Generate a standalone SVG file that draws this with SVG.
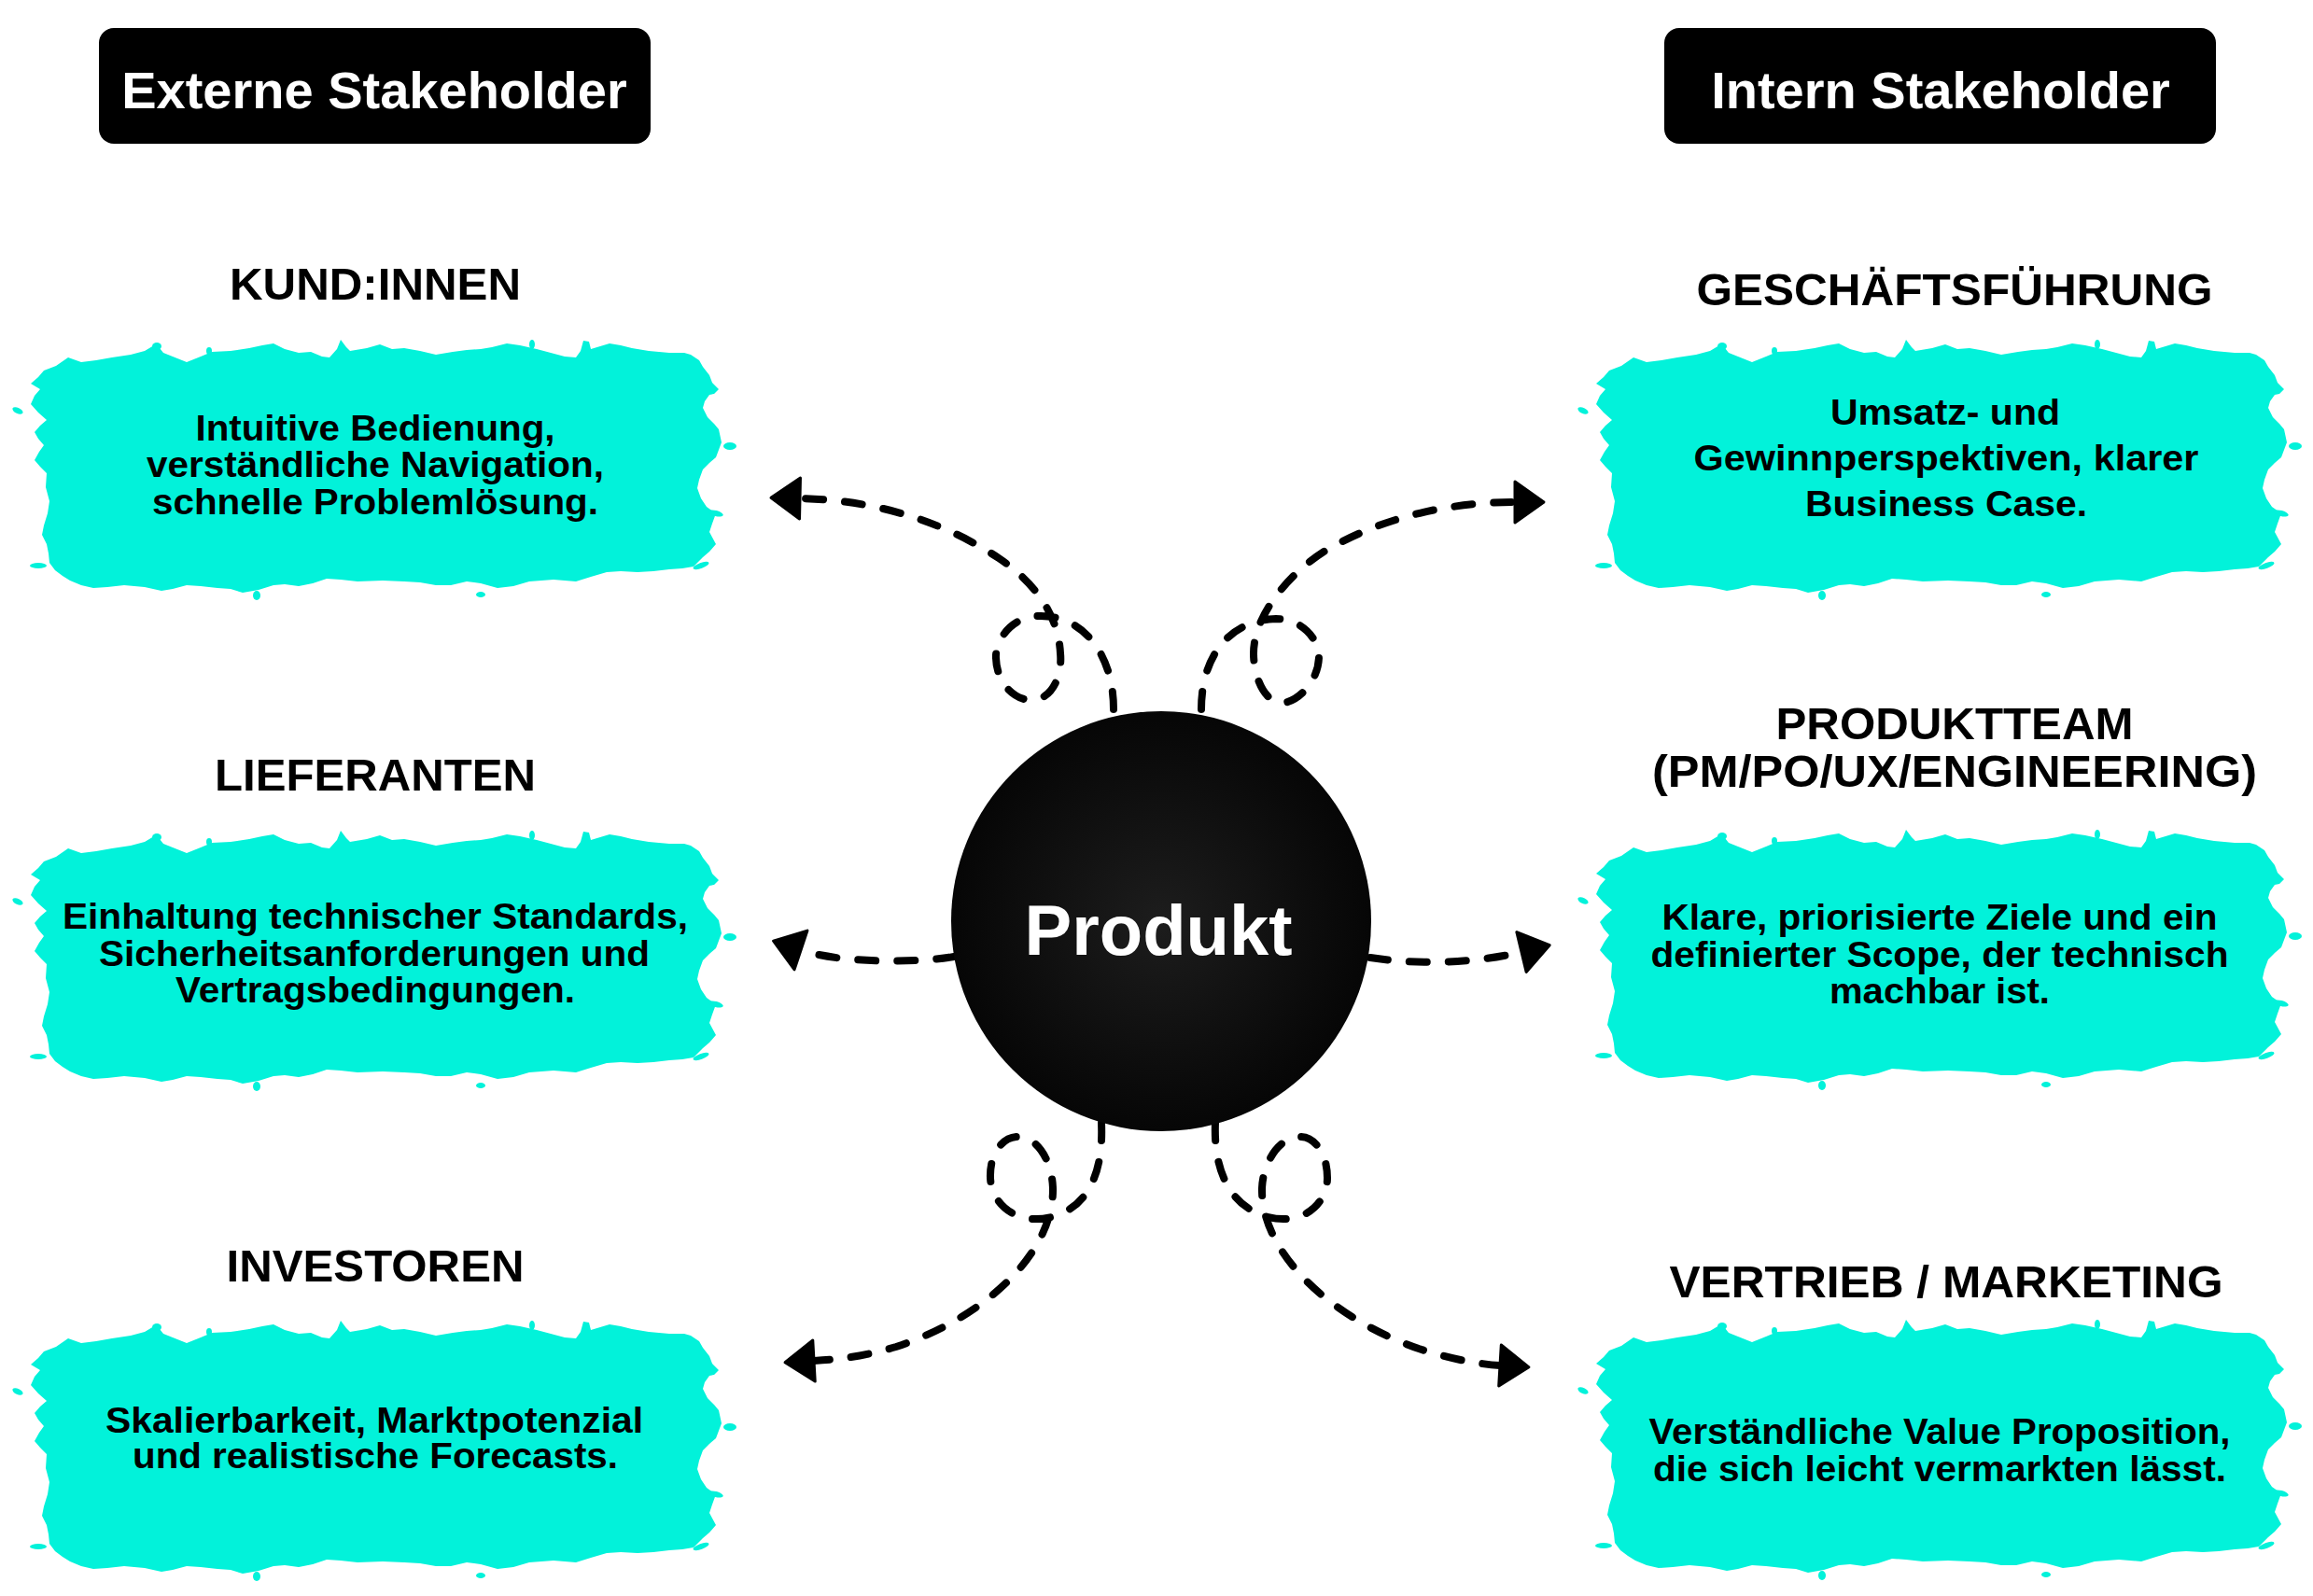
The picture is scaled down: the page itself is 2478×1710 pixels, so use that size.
<svg xmlns="http://www.w3.org/2000/svg" width="2478" height="1710" viewBox="0 0 2478 1710">
<style>
text{font-family:"Liberation Sans",Arial,Helvetica,sans-serif;font-weight:bold;text-anchor:middle}
.hdr{font-size:56px;fill:#fff}
.ttl{font-size:49px;fill:#000}
.body{font-size:38px;fill:#000}
.blob{fill:#02F2DA}
.conn{fill:none;stroke:#000;stroke-width:8;stroke-dasharray:19 23;stroke-linecap:round;stroke-linejoin:round;marker-end:url(#arr)}
</style>
<defs>
<marker id="arr" markerUnits="userSpaceOnUse" viewBox="-4 -28 42 56" markerWidth="42" markerHeight="56" refX="0" refY="0" orient="auto" overflow="visible">
<path d="M0,-22 L31,0 L0,22 Z" fill="#000" stroke="#000" stroke-width="3" stroke-linejoin="round"/>
</marker>
<radialGradient id="ball" cx="0.5" cy="0.5" r="0.5">
<stop offset="0" stop-color="#1d1d1d"/>
<stop offset="1" stop-color="#060606"/>
</radialGradient>
<g id="blobshape">
<path class="blob" d="M28,51 L18,45 L26,38 L32,31 L45,26 L58,17 L72,22 L88,20 L105,17 L125,14 L140,10 L150,4 L156,7 L160,12 L185,22 L200,16 L212,11 L232,10 L252,7 L266,4 L278,2 L290,8 L305,12 L318,11 L330,16 L338,17 L346,8 L350,-2 L356,6 L360,10 L378,7 L392,3 L405,8 L418,7 L435,10 L452,14 L470,11 L485,9 L500,8 L512,6 L528,2 L542,4 L560,8 L575,12 L590,16 L602,17 L607,10 L610,-1 L616,0 L618,8 L638,2 L650,4 L662,7 L680,10 L702,12 L718,12 L725,14 L734,20 L738,27 L745,36 L748,44 L755,51 L750,56 L745,57 L740,64 L738,71 L743,81 L750,88 L755,94 L758,108 L752,124 L745,130 L738,137 L734,148 L732,157 L736,168 L742,177 L752,184 L748,195 L745,204 L752,217 L745,225 L738,231 L728,241 L716,243 L702,244 L685,246 L668,247 L650,246 L635,247 L618,252 L602,257 L578,255 L552,257 L535,262 L518,264 L500,259 L485,257 L468,261 L452,261 L435,258 L418,257 L395,256 L368,257 L350,255 L335,254 L320,259 L305,262 L290,260 L278,261 L262,266 L245,269 L232,265 L218,264 L200,262 L185,261 L170,265 L158,267 L140,263 L118,261 L100,263 L85,264 L72,261 L60,256 L52,251 L44,245 L38,237 L37,227 L35,217 L30,207 L32,197 L36,184 L38,171 L34,156 L35,141 L28,134 L22,127 L27,118 L32,111 L26,104 L22,97 L28,90 L35,84 L26,76 L18,67 L22,58 Z"/>
<ellipse class="blob" cx="4" cy="74" rx="6" ry="3" transform="rotate(25 4 74)"/>
<ellipse class="blob" cx="767" cy="112" rx="7" ry="4"/>
<ellipse class="blob" cx="752" cy="184" rx="8" ry="3" transform="rotate(15 752 184)"/>
<ellipse class="blob" cx="736" cy="240" rx="9" ry="3" transform="rotate(-20 736 240)"/>
<ellipse class="blob" cx="26" cy="240" rx="9" ry="3"/>
<ellipse class="blob" cx="153" cy="5" rx="5" ry="4"/>
<ellipse class="blob" cx="209" cy="10" rx="3" ry="4"/>
<ellipse class="blob" cx="555" cy="3" rx="3" ry="5"/>
<ellipse class="blob" cx="260" cy="272" rx="4" ry="5"/>
<ellipse class="blob" cx="500" cy="271" rx="5" ry="3"/>
</g>
</defs>
<rect width="2478" height="1710" fill="#fff"/>

<g id="header-extern">
<rect x="106" y="30" width="591" height="124" rx="16" fill="#000"/>
<text class="hdr" x="401" y="116">Externe Stakeholder</text>
</g>
<g id="header-intern">
<rect x="1783" y="30" width="591" height="124" rx="16" fill="#000"/>
<text class="hdr" x="2079" y="116">Intern Stakeholder</text>
</g>

<g id="kundinnen">
<text class="ttl" x="402" y="321" textLength="312" lengthAdjust="spacingAndGlyphs">KUND:INNEN</text>
<use href="#blobshape" transform="translate(15,366)"/>
<text class="body" x="402" y="472" textLength="385" lengthAdjust="spacingAndGlyphs">Intuitive Bedienung,</text>
<text class="body" x="402" y="511" textLength="490" lengthAdjust="spacingAndGlyphs">verständliche Navigation,</text>
<text class="body" x="402" y="551" textLength="478" lengthAdjust="spacingAndGlyphs">schnelle Problemlösung.</text>
</g>

<g id="lieferanten">
<text class="ttl" x="402" y="847" textLength="344" lengthAdjust="spacingAndGlyphs">LIEFERANTEN</text>
<use href="#blobshape" transform="translate(15,892)"/>
<text class="body" x="402" y="995" textLength="670" lengthAdjust="spacingAndGlyphs">Einhaltung technischer Standards,</text>
<text class="body" x="401" y="1035" textLength="590" lengthAdjust="spacingAndGlyphs">Sicherheitsanforderungen und</text>
<text class="body" x="402" y="1074" textLength="428" lengthAdjust="spacingAndGlyphs">Vertragsbedingungen.</text>
</g>

<g id="investoren">
<text class="ttl" x="402" y="1373" textLength="319" lengthAdjust="spacingAndGlyphs">INVESTOREN</text>
<use href="#blobshape" transform="translate(15,1417)"/>
<text class="body" x="401" y="1535" textLength="576" lengthAdjust="spacingAndGlyphs">Skalierbarkeit, Marktpotenzial</text>
<text class="body" x="402" y="1573" textLength="520" lengthAdjust="spacingAndGlyphs">und realistische Forecasts.</text>
</g>

<g id="geschaeftsfuehrung">
<text class="ttl" x="2094" y="327" textLength="553" lengthAdjust="spacingAndGlyphs">GESCHÄFTSFÜHRUNG</text>
<use href="#blobshape" transform="translate(1692,366)"/>
<text class="body" x="2084" y="455" textLength="246" lengthAdjust="spacingAndGlyphs">Umsatz- und</text>
<text class="body" x="2085" y="504" textLength="541" lengthAdjust="spacingAndGlyphs">Gewinnperspektiven, klarer</text>
<text class="body" x="2085" y="553" textLength="302" lengthAdjust="spacingAndGlyphs">Business Case.</text>
</g>

<g id="produktteam">
<text class="ttl" x="2094" y="792" textLength="383" lengthAdjust="spacingAndGlyphs">PRODUKTTEAM</text>
<text class="ttl" x="2094" y="843" textLength="648" lengthAdjust="spacingAndGlyphs">(PM/PO/UX/ENGINEERING)</text>
<use href="#blobshape" transform="translate(1692,891)"/>
<text class="body" x="2078" y="996" textLength="595" lengthAdjust="spacingAndGlyphs">Klare, priorisierte Ziele und ein</text>
<text class="body" x="2078" y="1036" textLength="619" lengthAdjust="spacingAndGlyphs">definierter Scope, der technisch</text>
<text class="body" x="2078" y="1075" textLength="236" lengthAdjust="spacingAndGlyphs">machbar ist.</text>
</g>

<g id="vertrieb-marketing">
<text class="ttl" x="2085" y="1390" textLength="593" lengthAdjust="spacingAndGlyphs">VERTRIEB / MARKETING</text>
<use href="#blobshape" transform="translate(1692,1416)"/>
<text class="body" x="2078" y="1547" textLength="623" lengthAdjust="spacingAndGlyphs">Verständliche Value Proposition,</text>
<text class="body" x="2078" y="1587" textLength="614" lengthAdjust="spacingAndGlyphs">die sich leicht vermarkten lässt.</text>
</g>

<g id="connectors">
<path class="conn" d="M1193,760 C1193,700 1160,660 1115,660 C1080,660 1066,690 1067,705 C1068,735 1090,752 1108,750 C1130,747 1138,720 1136,700 C1134,660 1110,625 1070,598 C1020,565 950,536 857,534"/>
<path class="conn" d="M1287,760 C1287,705 1315,665 1367,663 C1395,663 1413,685 1413,703 C1413,730 1390,753 1373,753 C1355,753 1343,725 1343,700 C1343,660 1380,615 1420,590 C1480,555 1550,538 1623,538"/>
<path class="conn" d="M1022,1025 C980,1032 900,1032 858,1018"/>
<path class="conn" d="M1468,1026 C1520,1034 1580,1032 1630,1020"/>
<path class="conn" d="M1180,1203 C1182,1250 1170,1290 1130,1303 C1090,1315 1062,1290 1061,1262 C1060,1235 1075,1218 1090,1218 C1115,1218 1128,1250 1128,1275 C1128,1340 1060,1410 960,1443 C920,1455 890,1457 872,1458"/>
<path class="conn" d="M1302,1203 C1300,1250 1315,1290 1355,1303 C1395,1315 1422,1290 1422,1262 C1422,1235 1408,1218 1393,1218 C1368,1218 1352,1250 1352,1275 C1352,1340 1420,1410 1520,1445 C1560,1458 1590,1462 1607,1463"/>
</g>

<g id="produkt">
<circle cx="1244" cy="987" r="225" fill="url(#ball)"/>
<text x="1241" y="1023" style="font-size:76px;fill:#fff">Produkt</text>
</g>
</svg>
